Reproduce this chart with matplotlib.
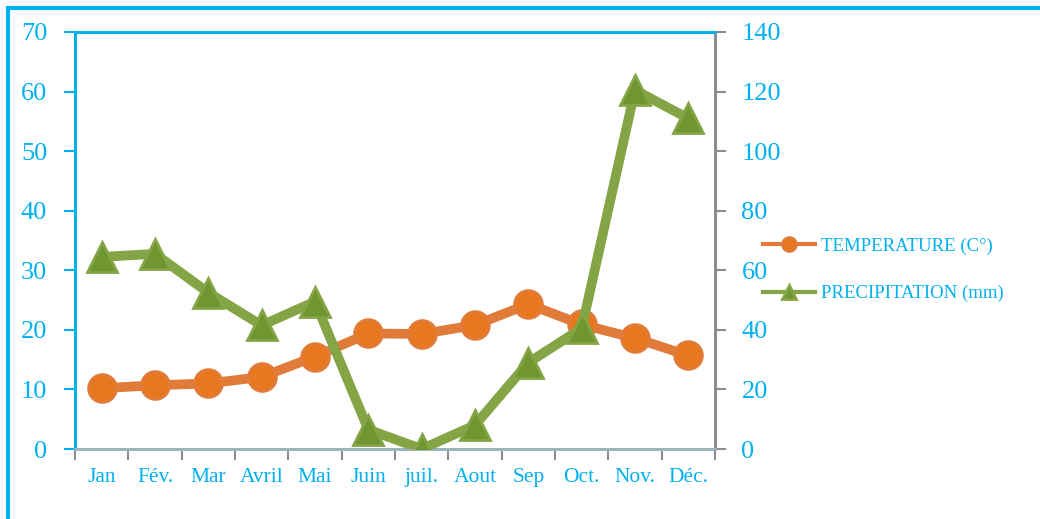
import matplotlib

matplotlib.use("Agg")
import matplotlib.pyplot as plt
import numpy as np
from matplotlib.patches import Rectangle
from matplotlib.ticker import FixedLocator

months = ["Jan", "Fév.", "Mar", "Avril", "Mai", "Juin", "juil.", "Aout", "Sep", "Oct.", "Nov.", "Déc."]
temperature = [10.2, 10.7, 11.0, 12.1, 15.5, 19.4, 19.3, 20.8, 24.3, 20.9, 18.6, 15.7]
precipitation = [64.5, 65.5, 52.5, 41.5, 49.5, 6.5, 0.0, 8.0, 29.0, 40.5, 120.5, 111.0]

CYAN = "#00b0f0"
GRAY = "#8c8c8c"
ORANGE_LINE = "#e07b39"
ORANGE_MK = "#e8781f"
GREEN_LINE = "#84a546"
GREEN_MK = "#6f9630"

plt.rcParams["font.family"] = ["Liberation Serif", "DejaVu Serif"]

fig = plt.figure(figsize=(10.4, 5.19), dpi=100)
ax = fig.add_axes([75 / 1040, 70 / 519, 640 / 1040, 417 / 519])
ax2 = ax.twinx()

x = np.arange(len(months))

l1, = ax.plot(x, temperature, color=ORANGE_LINE, lw=7, marker="o", ms=20,
              markerfacecolor=ORANGE_MK, markeredgecolor=ORANGE_LINE, markeredgewidth=2,
              solid_joinstyle="round", zorder=3)
l2, = ax2.plot(x, precipitation, color=GREEN_LINE, lw=7, marker="^", ms=21,
               markerfacecolor=GREEN_MK, markeredgecolor=GREEN_LINE, markeredgewidth=2,
               solid_joinstyle="round", zorder=3)

ax.set_xlim(-0.5, 11.5)
ax.set_ylim(0, 70)
ax2.set_ylim(0, 140)
ax.set_yticks(np.arange(0, 71, 10))
ax2.set_yticks(np.arange(0, 141, 20))

ax.set_xticks(x)
ax.set_xticklabels(months)
ax.xaxis.set_minor_locator(FixedLocator(np.arange(-0.5, 12, 1)))
ax.tick_params(axis="x", which="major", length=0, pad=14, labelsize=15.5, labelcolor=CYAN)
ax.tick_params(axis="x", which="minor", length=8, width=1.5, color=GRAY, direction="out")
ax.tick_params(axis="y", length=8, width=1.5, color=CYAN, labelsize=19, labelcolor=CYAN, pad=12)
ax2.tick_params(axis="y", length=8, width=1.5, color=GRAY, labelsize=19, labelcolor=CYAN, pad=11)

for a in (ax, ax2):
    a.spines["left"].set_color(CYAN)
    a.spines["top"].set_color(CYAN)
    a.spines["bottom"].set_color("#9fb4c0")
    a.spines["right"].set_color(GRAY)
    for s in a.spines.values():
        s.set_linewidth(2)

leg = fig.legend([l1, l2], ["TEMPERATURE (C°)", "PRECIPITATION (mm)"],
                 loc="center left", bbox_to_anchor=(746 / 1040, 1 - 270 / 519),
                 frameon=False, fontsize=13.5, labelcolor=CYAN, handlelength=2.8,
                 handletextpad=0.3, labelspacing=1.6, markerscale=0.5)
for h in leg.legend_handles:
    h.set_linewidth(3)

border = Rectangle((8 / 1040, -0.1), 1.2, 1 - 8 / 519 + 0.1, transform=fig.transFigure,
                   fill=False, edgecolor=CYAN, linewidth=3, clip_on=False)
fig.patches.append(border)

fig.savefig("out.png", dpi=100)
